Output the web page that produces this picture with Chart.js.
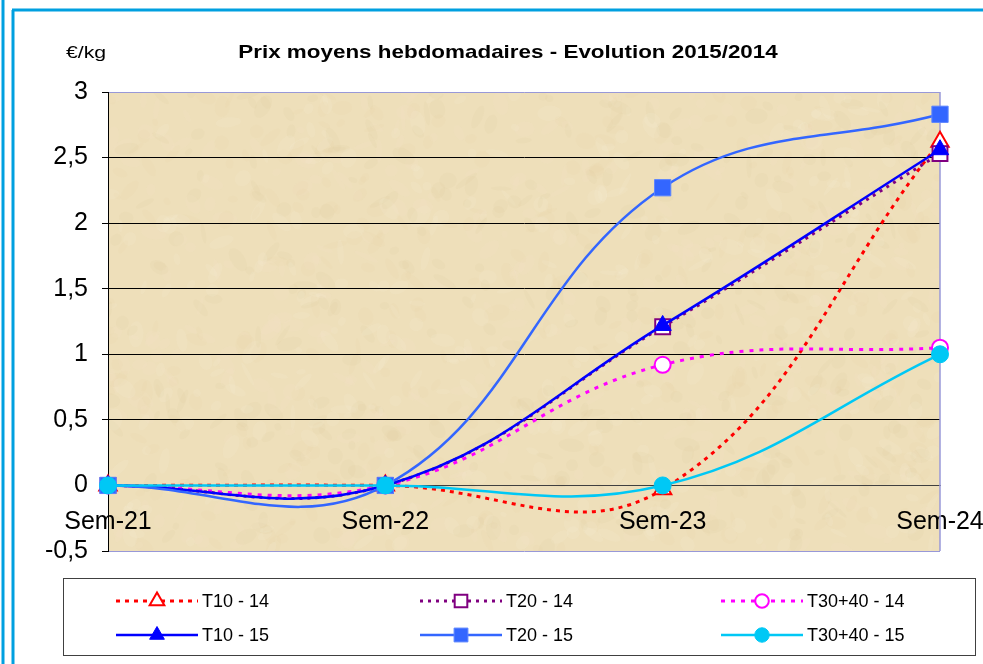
<!DOCTYPE html>
<html>
<head>
<meta charset="utf-8">
<script src="https://cdn.jsdelivr.net/npm/chart.js@4.4.1/dist/chart.umd.min.js"></script>
<style>
  html, body { margin: 0; padding: 0; background: #fff; }
  #wrap { position: relative; width: 983px; height: 664px; }
</style>
</head>
<body>
<div id="wrap"><canvas id="chart" width="983" height="664"></canvas></div>
<script>
// weeks on the x axis
const weeks = ["Sem-21", "Sem-22", "Sem-23", "Sem-24"]
const yTicks = [-0.5, 0, 0.5, 1, 1.5, 2, 2.5, 3]

// 2014 series (dotted, open markers)
const t10_14 = [0, 0, -0.03, 2.62]
const t20_14 = [0, 0, 1.21, 2.53]
const t3040_14 = [0, 0, 0.92, 1.05]

// 2015 series (solid, filled markers)
const t10_15 = [0, 0, 1.22, 2.56]
const t20_15 = [0, 0, 2.27, 2.83]
const t3040_15 = [0, 0, 0, 1.0]

const seriesNames = ["T10 - 14", "T20 - 14", "T30+40 - 14", "T10 - 15", "T20 - 15", "T30+40 - 15"]

const FONT = "Arial, 'Liberation Sans', sans-serif"

// simple seeded generator, only used for the parchment texture
let seed = 12345
function rnd() {
  seed = (seed * 1103515245 + 12345) % 2147483648
  return seed / 2147483648
}

function makeTexture(w, h) {
  const c = document.createElement("canvas")
  c.width = w
  c.height = h
  const g = c.getContext("2d")
  g.fillStyle = "#EEDFBA"
  g.fillRect(0, 0, w, h)
  const tones = ["rgba(220,196,148,0.10)", "rgba(250,242,220,0.14)", "rgba(228,204,156,0.08)", "rgba(246,234,204,0.12)"]
  for (let i = 0; i < 1400; i++) {
    g.fillStyle = tones[i % tones.length]
    const x = rnd() * w, y = rnd() * h
    const rx = 3 + rnd() * 10, ry = 2 + rnd() * 6
    g.beginPath()
    g.ellipse(x, y, rx, ry, rnd() * Math.PI, 0, Math.PI * 2)
    g.fill()
  }
  return c
}

function drawMarker(ctx, style, x, y, r, fill, stroke, lw) {
  ctx.save()
  ctx.beginPath()
  if (style === "triangle") {
    ctx.moveTo(x, y - r)
    ctx.lineTo(x + r * 0.866, y + r * 0.5)
    ctx.lineTo(x - r * 0.866, y + r * 0.5)
    ctx.closePath()
  } else if (style === "rect") {
    const s = r * Math.SQRT1_2
    ctx.rect(x - s, y - s, 2 * s, 2 * s)
  } else {
    ctx.arc(x, y, r, 0, Math.PI * 2)
  }
  ctx.fillStyle = fill
  ctx.fill()
  ctx.lineWidth = lw
  ctx.strokeStyle = stroke
  ctx.setLineDash([])
  ctx.stroke()
  ctx.restore()
}

let texture = null

const decorPlugin = {
  id: "decor",
  beforeDraw(chart) {
    const ctx = chart.ctx
    const a = chart.chartArea
    ctx.save()
    ctx.fillStyle = "#fff"
    ctx.fillRect(0, 0, chart.width, chart.height)
    if (!texture) texture = makeTexture(Math.ceil(a.right - a.left), Math.ceil(a.bottom - a.top))
    ctx.drawImage(texture, a.left, a.top)
    ctx.restore()
  },
  beforeDatasetsDraw(chart) {
    const ctx = chart.ctx
    const a = chart.chartArea
    ctx.save()
    ctx.strokeStyle = "#9898D8"
    ctx.lineWidth = 1.5
    ctx.beginPath()
    ctx.moveTo(a.right, a.top)
    ctx.lineTo(a.right, a.bottom)
    ctx.stroke()
    ctx.restore()
  },
  afterDraw(chart) {
    const ctx = chart.ctx
    ctx.save()

    // outer blue frame
    ctx.strokeStyle = "#00A0E0"
    ctx.lineWidth = 3
    ctx.beginPath()
    ctx.moveTo(3, 0); ctx.lineTo(3, 664)
    ctx.moveTo(13, 10); ctx.lineTo(13, 664)
    ctx.moveTo(12, 10); ctx.lineTo(983, 10)
    ctx.stroke()

    // title + unit
    ctx.fillStyle = "#000"
    ctx.textBaseline = "middle"
    ctx.textAlign = "center"
    ctx.font = "bold 19px " + FONT
    ctx.save()
    ctx.translate(508, 53)
    ctx.scale(1.18, 1)
    ctx.fillText("Prix moyens hebdomadaires - Evolution 2015/2014", 0, 0)
    ctx.restore()
    ctx.save()
    ctx.textAlign = "left"
    ctx.font = "17px " + FONT
    ctx.translate(66, 53)
    ctx.scale(1.25, 1)
    ctx.fillText("€/kg", 0, 0)
    ctx.restore()

    // legend box
    ctx.strokeStyle = "#404040"
    ctx.lineWidth = 1
    ctx.strokeRect(63.5, 578.5, 912, 77)

    const cols = [157, 461, 762]
    const rows = [601, 635]
    chart.data.datasets.forEach((ds, i) => {
      const cx = cols[i % 3]
      const cy = rows[Math.floor(i / 3)]
      ctx.save()
      ctx.strokeStyle = ds.borderColor
      ctx.lineWidth = ds.borderWidth
      ctx.setLineDash(ds.borderDash || [])
      ctx.beginPath()
      ctx.moveTo(cx - 41, cy)
      ctx.lineTo(cx + 41, cy)
      ctx.stroke()
      ctx.restore()
      drawMarker(ctx, ds.pointStyle, cx, cy, ds.pointRadius * 0.85, ds.pointBackgroundColor, ds.pointBorderColor, ds.pointBorderWidth)
      ctx.fillStyle = "#000"
      ctx.font = "18px " + FONT
      ctx.textAlign = "left"
      ctx.textBaseline = "middle"
      ctx.fillText(ds.label, cx + 45, cy + 1)
    })
    ctx.restore()
  }
}

const lineBase = { tension: 0.4, fill: false, clip: false, pointHoverRadius: 0 }

new Chart(document.getElementById("chart"), {
  type: "line",
  data: {
    labels: weeks,
    datasets: [
      { ...lineBase, label: seriesNames[0], data: t10_14, borderColor: "#FF0000", borderWidth: 3, borderDash: [4, 5],
        pointStyle: "triangle", pointRadius: 10, pointBackgroundColor: "#FFFFFF", pointBorderColor: "#FF0000", pointBorderWidth: 2, order: 6 },
      { ...lineBase, label: seriesNames[1], data: t20_14, borderColor: "#800080", borderWidth: 3, borderDash: [3, 5],
        pointStyle: "rect", pointRadius: 10.5, pointBackgroundColor: "#FFFFFF", pointBorderColor: "#800080", pointBorderWidth: 2, order: 5 },
      { ...lineBase, label: seriesNames[2], data: t3040_14, borderColor: "#FF00FF", borderWidth: 3, borderDash: [4, 6],
        pointStyle: "circle", pointRadius: 8, pointBackgroundColor: "#FFFFFF", pointBorderColor: "#FF00FF", pointBorderWidth: 2, order: 4 },
      { ...lineBase, label: seriesNames[3], data: t10_15, borderColor: "#0000FF", borderWidth: 2.5,
        pointStyle: "triangle", pointRadius: 10, pointBackgroundColor: "#0000FF", pointBorderColor: "#0000FF", pointBorderWidth: 1, order: 3 },
      { ...lineBase, label: seriesNames[4], data: t20_15, borderColor: "#3366FF", borderWidth: 2.5,
        pointStyle: "rect", pointRadius: 11.5, pointBackgroundColor: "#3366FF", pointBorderColor: "#5C85FF", pointBorderWidth: 1, order: 2 },
      { ...lineBase, label: seriesNames[5], data: t3040_15, borderColor: "#00C8F5", borderWidth: 2.5,
        pointStyle: "circle", pointRadius: 8.5, pointBackgroundColor: "#00C8F5", pointBorderColor: "#00C8F5", pointBorderWidth: 1, order: 1 }
    ]
  },
  options: {
    responsive: false,
    animation: false,
    events: [],
    layout: { padding: { top: 92, right: 43, bottom: 113, left: 0 } },
    plugins: {
      legend: { display: false },
      title: { display: false },
      tooltip: { enabled: false }
    },
    scales: {
      x: {
        type: "category",
        position: { y: 0 },
        offset: false,
        afterFit: (s) => { s.paddingLeft = 0; s.paddingRight = 0 },
        grid: { display: false, drawTicks: false },
        border: { display: true, color: "#404040", width: 1 },
        ticks: {
          color: "#000",
          font: { family: FONT, size: 25 },
          padding: 22,
          maxRotation: 0,
          autoSkip: false
        }
      },
      y: {
        min: -0.5,
        max: 3,
        afterFit: (s) => { s.width = 108 },
        afterBuildTicks: (s) => { s.ticks = yTicks.map(v => ({ value: v })) },
        grid: {
          color: (c) => (c.tick && (c.tick.value === 3 || c.tick.value === -0.5)) ? "#9898D8" : "#000000",
          lineWidth: 1,
          tickLength: 6,
          tickColor: "#000000"
        },
        border: { display: true, color: "#000", width: 1 },
        ticks: {
          color: "#000",
          font: { family: FONT, size: 25 },
          padding: 14,
          callback: (v) => String(v).replace(".", ",")
        }
      }
    }
  },
  plugins: [decorPlugin]
})
</script>
</body>
</html>
